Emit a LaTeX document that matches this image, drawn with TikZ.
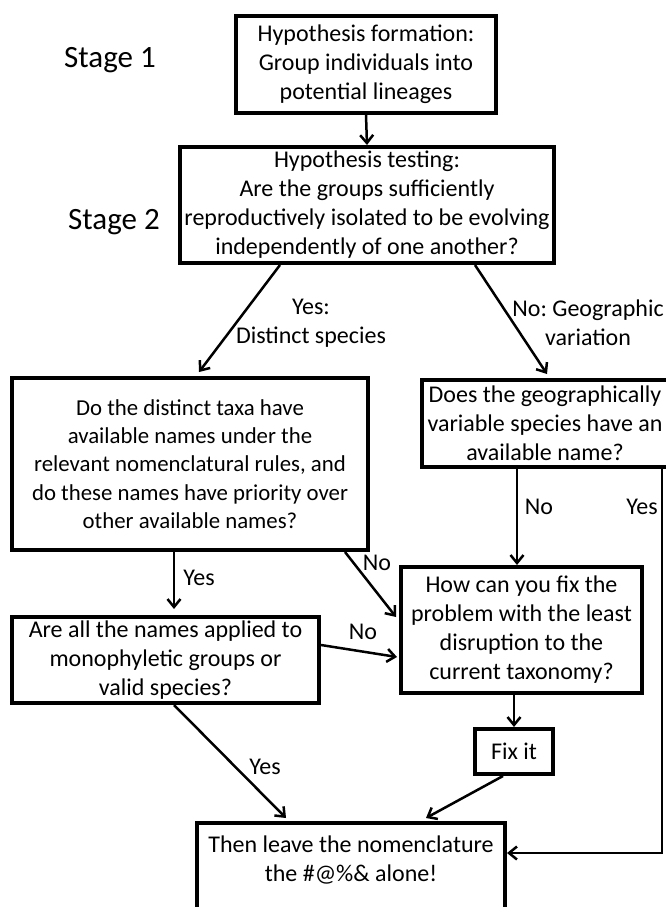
\documentclass[tikz,border=0pt]{standalone}
\usepackage{fontspec}
\setmainfont{Carlito}
\usetikzlibrary{arrows.meta}
\frenchspacing
\begin{document}
\begin{tikzpicture}[x=1pt,y=-1pt,
  box/.style={draw, line width=4pt, fill=white, inner sep=0pt, align=center,
    font=\fontsize{24}{29}\selectfont},
  lbl/.style={inner sep=0pt, align=center, font=\fontsize{24}{29}\selectfont},
  stage/.style={inner sep=0pt, font=\fontsize{31}{37}\selectfont},
  conn/.style={line width=2.5pt, -{Straight Barb[length=8pt,width=13pt,line width=2.5pt]}},
]
\useasboundingbox (0,0) rectangle (665,907);

\node[stage] (s1) at (110,60) {Stage 1};
\node[stage] (s2) at (114,222) {Stage 2};

\node[box, minimum width=260pt, minimum height=97pt] (b1) at (366,64.5)
  {Hypothesis formation:\\Group individuals into\\potential lineages};
\node[box, minimum width=374pt, minimum height=116pt] (b2) at (367,205)
  {Hypothesis testing:\\Are the groups sufficiently\\reproductively isolated to be evolving\\independently of one another?};
\node[box, minimum width=356pt, minimum height=172pt, font=\fontsize{22.8}{28.4}\selectfont] (b3) at (190,464)
  {Do the distinct taxa have\\available names under the\\relevant nomenclatural rules, and\\do these names have priority over\\other available names?};
\node[box, minimum width=246pt, minimum height=87pt] (b4) at (545,423.5)
  {Does the geographically\\variable species have an\\available name?};
\node[box, minimum width=307pt, minimum height=86pt] (b5) at (165.5,660)
  {Are all the names applied to\\monophyletic groups or\\valid species?};
\node[box, minimum width=241pt, minimum height=126pt] (b6) at (521.5,630)
  {How can you fix the\\problem with the least\\disruption to the\\current taxonomy?};
\node[box, minimum width=78pt, minimum height=45pt] (fix) at (514,751.5) {Fix it};
\node[box, minimum width=308pt, minimum height=100pt] (b7) at (351,873)
  {Then leave the nomenclature\\the \#@\%\& alone!\\\mbox{}};

% connectors
\draw[conn] (b1.south) -- (b2.north);
\draw[conn] ([xshift=-87pt]b2.south) -- ([xshift=9pt,yshift=4pt]b3.north);
\draw[conn] ([xshift=108pt]b2.south) -- ([xshift=2pt,yshift=4pt]b4.north);
\draw[conn] ([xshift=-16pt]b3.south) -- ([xshift=-16pt,yshift=6pt]b3.south |- b5.north);
\draw[conn] ([xshift=-25pt]b3.south east) -- ([xshift=-3pt,yshift=13pt]b6.west);
\draw[conn] ([yshift=15pt]b5.east) -- ([xshift=-2pt,yshift=-27pt]b6.west);
\draw[conn] ([xshift=-28pt]b4.south) -- ([xshift=-28pt]b4.south |- b6.north);
\draw[conn] ([xshift=117pt]b4.south) |- ([yshift=20pt]b7.east);
\draw[conn] (fix.north |- b6.south) -- (fix.north);
\draw[conn] ([xshift=-11pt]fix.south) -- ([xshift=75pt,yshift=3pt]b7.north);
\draw[conn] ([xshift=8.5pt]b5.south) -- ([xshift=-65pt,yshift=3pt]b7.north);

% labels
\node[lbl] (l1) at (311,323) {Yes:\\Distinct species};
\node[lbl] (l2) at (588,323) {No: Geographic\\variation};
\node[lbl] (l3) at (539,507) {No};
\node[lbl] (l4) at (642,507) {Yes};
\node[lbl] (l5) at (199,578) {Yes};
\node[lbl] (l6) at (377,563) {No};
\node[lbl] (l7) at (363,632) {No};
\node[lbl] (l8) at (265,767) {Yes};
\end{tikzpicture}
\end{document}
